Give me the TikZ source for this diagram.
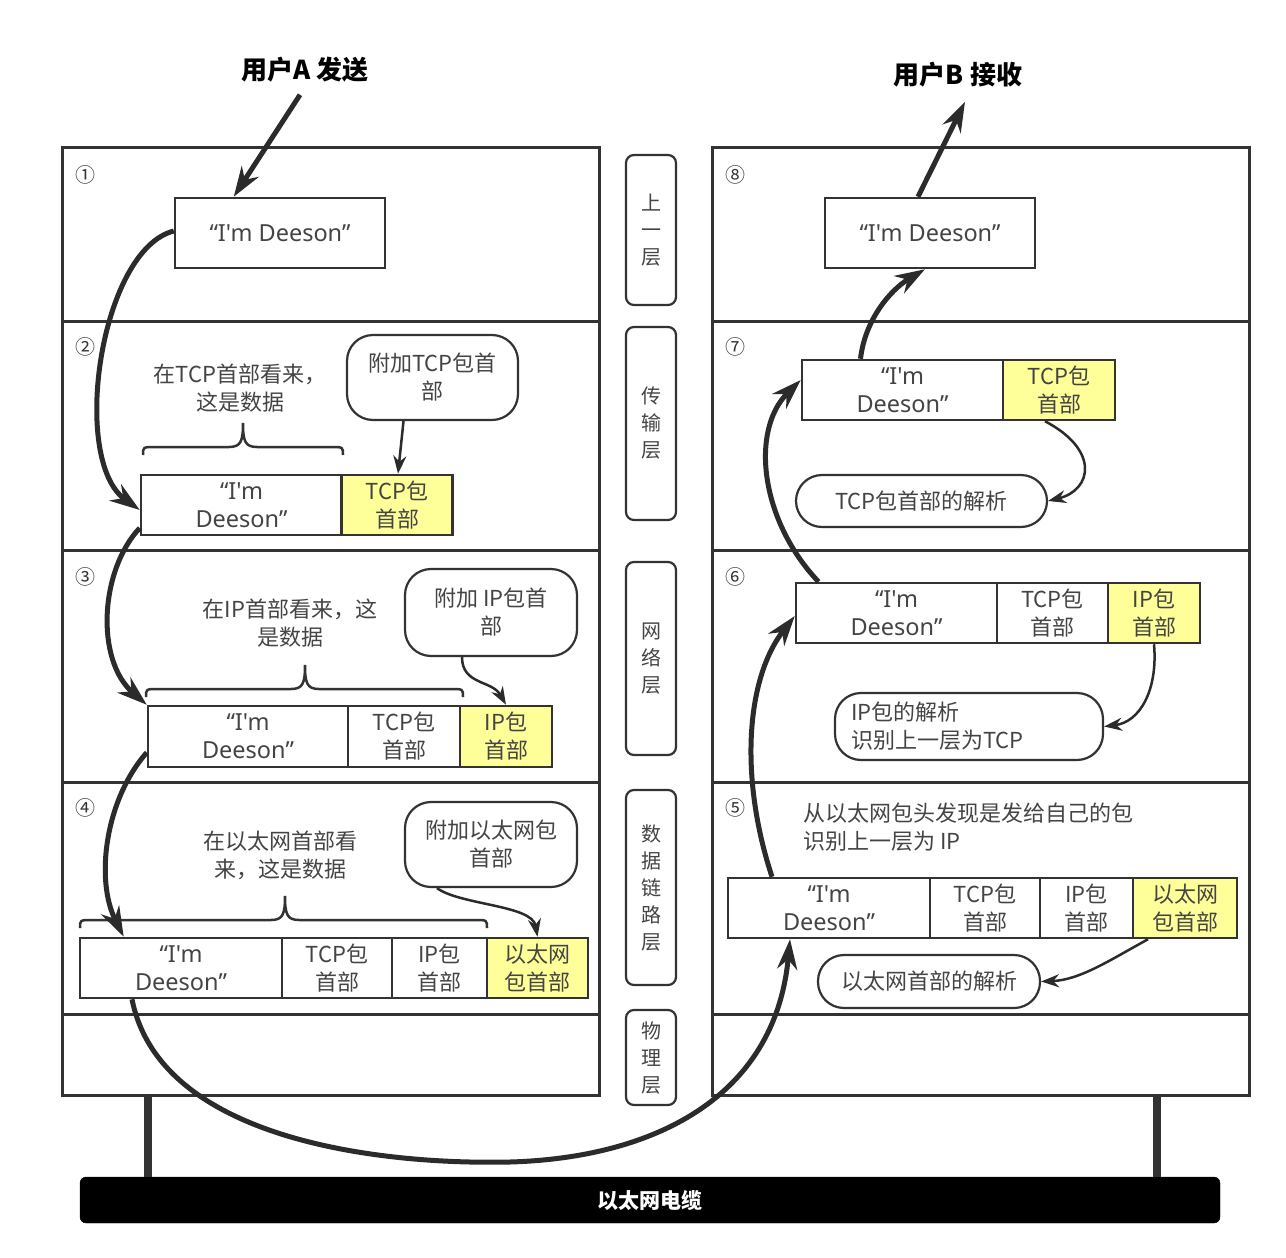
\documentclass[tikz,border=0pt]{standalone}
\usepackage{fontspec}
\setmainfont{Noto Sans CJK SC}
\newfontfamily\latfont{Noto Sans}
\usetikzlibrary{arrows.meta,calc}
\definecolor{linec}{HTML}{333333}
\definecolor{txtc}{HTML}{444444}
\definecolor{yelc}{HTML}{FFFF99}
\definecolor{arrc}{HTML}{2B2B2B}
\newcommand\fsa{\fontsize{22}{28}\selectfont}
\newcommand\fsl{\fontsize{23.5}{28}\selectfont}
\newcommand\fsm{\fontsize{20}{27}\selectfont}
\newcommand\fst{\fontsize{26}{30}\selectfont\bfseries}
\newcommand\fsn{\fontsize{20}{20}\selectfont}
\newcommand\cbrace[4]{\draw[bracestyle] (#1,#3) .. controls (#1,#3-8) .. (#1+12,#3-8) -- (#4-14,#3-8) .. controls (#4-2,#3-8) and (#4,#3-14) .. (#4,#3-32) .. controls (#4,#3-14) and (#4+2,#3-8) .. (#4+14,#3-8) -- (#2-12,#3-8) .. controls (#2,#3-8) .. (#2,#3);}
\tikzset{
  panel/.style={draw=linec, line width=3pt},
  cell/.style={draw=linec, line width=2.5pt, inner sep=0pt, align=center, text=txtc, font=\fsa, fill=white},
  lat/.style={font=\fsl\latfont},
  yel/.style={cell, fill=yelc},
  bubble/.style={draw=linec, line width=2.2pt, rounded corners=26pt, inner sep=0pt, align=center, text=txtc, font=\fsa, fill=white},
  layer/.style={draw=linec, line width=2.2pt, rounded corners=8pt, minimum width=50pt, inner sep=0pt, align=center, text=txtc, font=\fsm},
  caption/.style={align=center, text=txtc, font=\fsa, inner sep=0pt},
  num/.style={text=linec, font=\fsn, inner sep=0pt},
  bigarr/.style={draw=arrc, line width=5pt, -{Stealth[length=30pt,width=20pt]}},
  smallarr/.style={draw=arrc, line width=2.5pt, -{Stealth[length=18pt,width=13pt]}},
  bracestyle/.style={draw=linec, line width=2.5pt},
  leg/.style={draw=linec, line width=8pt},
  title/.style={font=\fst, text=black, inner sep=0pt}
}
\begin{document}
\begin{tikzpicture}[x=1pt,y=-1pt]
\useasboundingbox[fill=white] (0,0) rectangle (1286,1258);

% panels
\draw[panel] (62,147) rectangle (599,1095);
\draw[panel] (712,147) rectangle (1249,1095);
\foreach \yy in {321,550,782,1014} {
  \draw[panel] (62,\yy) -- (599,\yy);
  \draw[panel] (712,\yy) -- (1249,\yy);
}

% cable and legs
\node[fill=black, draw=black, rounded corners=6pt, minimum width=1140pt, minimum height=46pt, inner sep=0pt, text=white, font=\fontsize{21}{21}\selectfont\bfseries] (cable) at (650,1200) {以太网电缆};
\draw[leg] (148,1095) -- (148,1177);
\draw[leg] (1157,1095) -- (1157,1177);

% titles
\node[title] (tA) at (305,70) {用户A 发送};
\node[title] (tB) at (958,75) {用户B 接收};

% layer labels
\node[layer, minimum height=150pt] (m1) at (651,230) {上\\一\\层};
\node[layer, minimum height=193pt] (m2) at (651,423.5) {传\\输\\层};
\node[layer, minimum height=193pt] (m3) at (651,658.5) {网\\络\\层};
\node[layer, minimum height=195pt] (m4) at (651,887.5) {数\\据\\链\\路\\层};
\node[layer, minimum height=95pt] (m5) at (651,1057.5) {物\\理\\层};

% circled numbers
\node[num] (n1) at (85,175) {①};
\node[num] (n2) at (85,347) {②};
\node[num] (n3) at (85,577) {③};
\node[num] (n4) at (85,808) {④};
\node[num] (n8) at (735,175) {⑧};
\node[num] (n7) at (735,347) {⑦};
\node[num] (n6) at (735,577) {⑥};
\node[num] (n5) at (735,808) {⑤};

% ---------- left side ----------
\node[cell, lat, minimum width=210pt, minimum height=70pt] (b1) at (280,233) {“I'm Deeson”};

\node[caption] (c2) at (240,388) {在TCP首部看来，\\这是数据};
\cbrace{143}{343}{455}{243}
\node[bubble, minimum width=171pt, minimum height=85pt] (u2) at (432.5,377.5) {附加TCP包首\\部};
\node[cell, lat, minimum width=201pt, minimum height=60pt] (p2a) at (241.5,505) {“I'm\\Deeson”};
\node[yel, minimum width=111pt, minimum height=60pt] (p2t) at (397,505) {TCP包\\首部};

\node[caption] (c3) at (290,623) {在IP首部看来，这\\是数据};
\cbrace{146}{463}{697}{305}
\node[bubble, minimum width=172pt, minimum height=87pt] (u3) at (491,612.5) {附加 IP包首\\部};
\node[cell, lat, minimum width=200pt, minimum height=61pt] (p3a) at (248,736.5) {“I'm\\Deeson”};
\node[cell, minimum width=112pt, minimum height=61pt] (p3t) at (404,736.5) {TCP包\\首部};
\node[yel, minimum width=92pt, minimum height=61pt] (p3i) at (506,736.5) {IP包\\首部};

\node[caption] (c4) at (280,855) {在以太网首部看\\来，这是数据};
\cbrace{80}{487}{928}{285}
\node[bubble, minimum width=172pt, minimum height=85pt] (u4) at (491,844.5) {附加以太网包\\首部};
\node[cell, lat, minimum width=202pt, minimum height=60pt] (p4a) at (181,968) {“I'm\\Deeson”};
\node[cell, minimum width=110pt, minimum height=60pt] (p4t) at (337,968) {TCP包\\首部};
\node[cell, minimum width=95pt, minimum height=60pt] (p4i) at (439.5,968) {IP包\\首部};
\node[yel, minimum width=101pt, minimum height=60pt] (p4e) at (537.5,968) {以太网\\包首部};

% ---------- right side ----------
\node[cell, lat, minimum width=210pt, minimum height=70pt] (b8) at (930,233) {“I'm Deeson”};

\node[cell, lat, minimum width=201pt, minimum height=60pt] (p7a) at (902.5,390) {“I'm\\Deeson”};
\node[yel, minimum width=112pt, minimum height=60pt] (p7t) at (1059,390) {TCP包\\首部};
\node[bubble, minimum width=251pt, minimum height=52pt] (u7) at (921.5,501) {TCP包首部的解析};

\node[cell, lat, minimum width=201pt, minimum height=60pt] (p6a) at (896.5,613) {“I'm\\Deeson”};
\node[cell, minimum width=111pt, minimum height=60pt] (p6t) at (1052.5,613) {TCP包\\首部};
\node[yel, minimum width=92pt, minimum height=60pt] (p6i) at (1154,613) {IP包\\首部};
\node[bubble, minimum width=268pt, minimum height=67pt, text width=236pt, inner xsep=16pt, align=left] (u6) at (969,726.5) {IP包的解析\\识别上一层为TCP};

\node[caption, anchor=north west, align=left] (c5) at (803,803) {从以太网包头发现是发给自己的包\\识别上一层为 IP};
\node[cell, lat, minimum width=202pt, minimum height=60pt] (p5a) at (829,908) {“I'm\\Deeson”};
\node[cell, minimum width=110pt, minimum height=60pt] (p5t) at (985,908) {TCP包\\首部};
\node[cell, minimum width=93pt, minimum height=60pt] (p5i) at (1086.5,908) {IP包\\首部};
\node[yel, minimum width=104pt, minimum height=60pt] (p5e) at (1185,908) {以太网\\包首部};
\node[bubble, minimum width=222pt, minimum height=53pt] (u5) at (929,981.5) {以太网首部的解析};

% ---------- big arrows ----------
\draw[bigarr] ([xshift=-5pt,yshift=-12pt]tA.south) -- ([xshift=60pt]b1.north west);
\draw[bigarr] ([xshift=-12pt]b8.north) -- ([xshift=7pt,yshift=-14pt]tB.south);

\draw[bigarr] ([yshift=2pt]b1.west) .. controls (100,250) and (70,460) .. ([yshift=-5pt]p2a.west);
\draw[bigarr] ([yshift=-23pt]p2a.west) .. controls (100,570) and (95,660) .. (p3a.north west);
\draw[bigarr] ([yshift=-16pt]p3a.west) .. controls (105,800) and (95,880) .. ([xshift=45pt]p4a.north west);
\draw[bigarr] ([xshift=-49pt]p4a.south) .. controls (160,1140) and (380,1165) .. (510,1162) .. controls (650,1158) and (775,1100) .. ([xshift=-39pt]p5a.south);

\draw[bigarr] ([xshift=-57pt]p5a.north) .. controls (740,780) and (745,680) .. ([yshift=-3pt]p6a.west);
\draw[bigarr] ([xshift=-78pt]p6a.north) .. controls (760,520) and (750,430) .. ([yshift=10pt]p7a.west);
\draw[bigarr] ([xshift=-42pt]p7a.north) .. controls (865,320) and (890,290) .. ([xshift=-5pt]b8.south);

% ---------- small arrows ----------
\draw[smallarr] ([xshift=-29pt]u2.south) -- ([xshift=1pt]p2t.north);
\draw[smallarr] ([xshift=-29pt]u3.south) .. controls (462,685) and (492,680) .. (p3i.north);
\draw[smallarr] ([xshift=-54pt]u4.south) .. controls (460,905) and (532,905) .. (p4e.north);
\draw[smallarr] ([xshift=-14pt]p7t.south) .. controls (1100,450) and (1092,490) .. (u7.east);
\draw[smallarr] (p6i.south) .. controls (1158,690) and (1140,722) .. (u6.east);
\draw[smallarr] ([xshift=-37pt]p5e.south) .. controls (1110,960) and (1080,980) .. (u5.east);

\end{tikzpicture}
\end{document}
